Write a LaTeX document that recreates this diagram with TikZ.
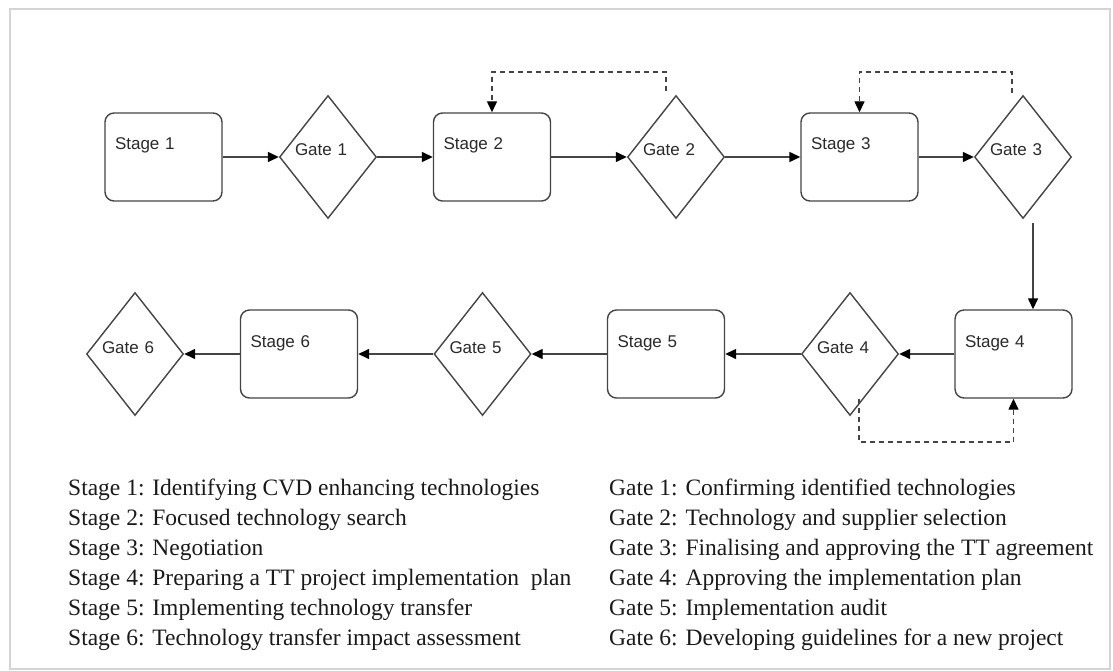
\documentclass[tikz,border=0pt]{standalone}
\usepackage{fontspec}
\setmainfont{Liberation Serif}
\newfontfamily\diagfont{Liberation Sans}
\usetikzlibrary{shapes.geometric,arrows.meta}
\definecolor{linec}{HTML}{444444}
\definecolor{labelc}{HTML}{2A2A2A}
\definecolor{textc}{HTML}{1A1A1A}
\definecolor{framec}{HTML}{D4D4D4}
\begin{document}
\begin{tikzpicture}[x=1pt,y=-1pt,
  stagebox/.style={draw=linec, line width=1.4pt, rounded corners=9pt, fill=white,
    text width=97pt, align=left, inner xsep=10pt, inner ysep=0pt,
    text height=37pt, text depth=51pt,
    font=\diagfont\fontsize{17}{20}\selectfont, text=labelc},
  gatebox/.style={diamond, draw=linec, line width=1.4pt, fill=white,
    minimum width=97pt, minimum height=123pt, inner sep=0pt,
    text width=66pt, align=left, text height=12pt, text depth=14pt,
    font=\diagfont\fontsize{17}{20}\selectfont, text=labelc},
  flow/.style={draw=linec, line width=1.4pt, -{Triangle[length=11pt,width=10pt,color=black]}},
  fback/.style={flow, dash pattern=on 5pt off 4pt},
  legend/.style={anchor=base west, inner sep=0pt, font=\fontsize{23.5}{30}\selectfont, text=textc}]
\useasboundingbox (0,0) rectangle (1113,671);
\draw[framec, line width=1.5pt] (10,9) rectangle (1110,669);

% row 1
\node[stagebox] (s1) at (163.5,157) {Stage 1};
\node[gatebox]  (g1) at (328,157) {Gate 1};
\node[stagebox] (s2) at (492,157) {Stage 2};
\node[gatebox]  (g2) at (676,157) {Gate 2};
\node[stagebox] (s3) at (859.5,157) {Stage 3};
\node[gatebox]  (g3) at (1023,157) {Gate 3};
% row 2
\node[stagebox] (s4) at (1013.5,354) {Stage 4};
\node[gatebox]  (g4) at (850,354) {Gate 4};
\node[stagebox] (s5) at (666,354) {Stage 5};
\node[gatebox]  (g5) at (482.5,354) {Gate 5};
\node[stagebox] (s6) at (299,354) {Stage 6};
\node[gatebox]  (g6) at (135,354) {Gate 6};

% main flow
\draw[flow] (s1.east) -- (g1.west);
\draw[flow] (g1.east) -- (s2.west);
\draw[flow] (s2.east) -- (g2.west);
\draw[flow] (g2.east) -- (s3.west);
\draw[flow] (s3.east) -- (g3.west);
\coordinate (d3) at (1033,223);
\draw[flow] (d3) -- (d3 |- s4.north);
\draw[flow] (s4.west) -- (g4.east);
\draw[flow] (g4.west) -- (s5.east);
\draw[flow] (s5.west) -- (g5.east);
\draw[flow] (g5.west) -- (s6.east);
\draw[flow] (s6.west) -- (g6.east);

% feedback loops
\coordinate (fb2) at (666,91);
\draw[fback] (fb2) -- ++(0,-19) -| (s2.north);
\coordinate (fb3) at (1012,93);
\draw[fback] (fb3) -- ++(0,-21) -| (s3.north);
\coordinate (fb4) at (859,399);
\draw[fback] (fb4) -- ++(0,43) -| (s4.south);

% legend
\node[legend] (l1) at (68,495) {Stage 1: Identifying CVD enhancing technologies};
\node[legend] (l2) at (68,525) {Stage 2: Focused technology search};
\node[legend] (l3) at (68,555) {Stage 3: Negotiation};
\node[legend] (l4) at (68,585) {Stage 4: Preparing a TT project implementation\ \ plan};
\node[legend] (l5) at (68,615) {Stage 5: Implementing technology transfer};
\node[legend] (l6) at (68,645) {Stage 6: Technology transfer impact assessment};
\node[legend] (r1) at (609,495) {Gate 1: Confirming identified technologies};
\node[legend] (r2) at (609,525) {Gate 2: Technology and supplier selection};
\node[legend] (r3) at (609,555) {Gate 3: Finalising and approving the TT agreement};
\node[legend] (r4) at (609,585) {Gate 4: Approving the implementation plan};
\node[legend] (r5) at (609,615) {Gate 5: Implementation audit};
\node[legend] (r6) at (609,645) {Gate 6: Developing guidelines for a new project};
\end{tikzpicture}
\end{document}
